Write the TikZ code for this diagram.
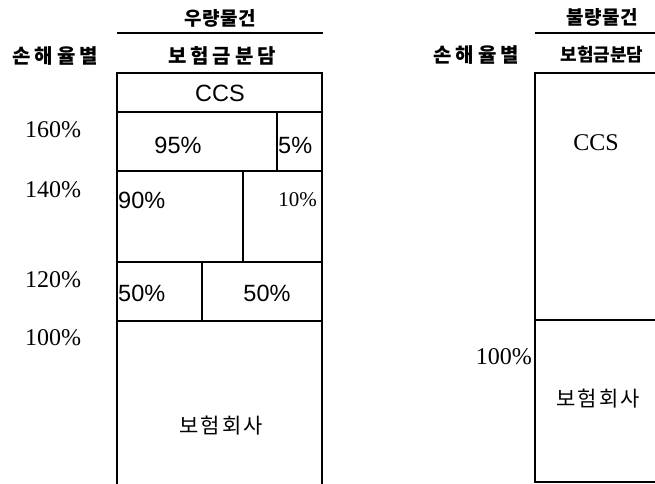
\documentclass[tikz,border=0pt]{standalone}
\usepackage{fontspec}
\setmainfont{Liberation Serif}
\newfontfamily\krfont{Noto Sans CJK KR}
\newfontfamily\arialfont{Liberation Sans}
\usetikzlibrary{calc}

\tikzset{
	hdr/.style = {inner sep = 0pt, font = \krfont\bfseries\fontsize{20}{20}\selectfont\addfontfeature{LetterSpace=20}},
	hdrtight/.style = {inner sep = 0pt, font = \krfont\bfseries\fontsize{19}{19}\selectfont\addfontfeature{LetterSpace=3}},
	kor/.style = {inner sep = 0pt, font = \krfont\fontsize{21}{21}\selectfont\addfontfeature{LetterSpace=10}},
	rate/.style = {inner sep = 0pt, font = \fontsize{24}{24}\selectfont},
	share/.style = {inner sep = 0pt, font = \arialfont\fontsize{23.5}{24}\selectfont},
	box/.style = {line width = 1.8pt},
	rule/.style = {line width = 2.2pt}
}

\begin{document}
\begin{tikzpicture}[x = 1pt, y = -1pt]
	\useasboundingbox (0,0) rectangle (655,483);
	
	% good risks
	\node [hdrtight] (goodtitle) at (220,18) {우량물건};
	\draw [rule] (117,33) -- (323,33);
	\node [hdr] (goodloss) at (55,56) {손해율별};
	\node [hdr] (goodshare) at (222,56) {보험금분담};
	
	\draw [box] (117,490) -- (117,73) -- (322,73) -- (322,490);
	\foreach \y in {112, 171, 262, 321}
		\draw [box] (117,\y) -- (322,\y);
	\draw [box] (277,112) -- (277,171);
	\draw [box] (243,171) -- (243,262);
	\draw [box] (202,262) -- (202,321);
	
	\node [rate] (r160) at (53,130) {160\%};
	\node [rate] (r140) at (53,190) {140\%};
	\node [rate] (r120) at (53,280) {120\%};
	\node [rate] (r100) at (53,338) {100\%};
	
	\node [share] (goodccs) at (220,93) {CCS};
	\node [share] (s95) at (178,145) {95\%};
	\node [share, anchor = west] (s5) at (278,145) {5\%};
	\node [share, anchor = west] (s90) at (118,200) {90\%};
	\node [rate, font = \fontsize{21}{21}\selectfont, anchor = east] (s10) at (317,200) {10\%};
	\node [share, anchor = west] (s50a) at (118,293) {50\%};
	\node [share] (s50b) at (267,293) {50\%};
	\node [kor] (goodins) at (221,426) {보험회사};
	
	% bad risks
	\node [hdrtight] (badtitle) at (602,17) {불량물건};
	\draw [rule] (535,33) -- (660,33);
	\node [hdr] (badloss) at (476,55) {손해율별};
	\node [inner sep = 0pt, font = \krfont\bfseries\fontsize{18}{18}\selectfont] (badshare) at (602,55) {보험금분담};
	
	\draw [box] (660,73) -- (535,73) -- (535,482) -- (660,482);
	\draw [box] (535,320) -- (660,320);
	
	\node [rate] (badccs) at (596,143) {CCS};
	\node [rate, anchor = east] (b100) at (532,357) {100\%};
	\node [kor] (badins) at (598,399) {보험회사};
\end{tikzpicture}
\end{document}
